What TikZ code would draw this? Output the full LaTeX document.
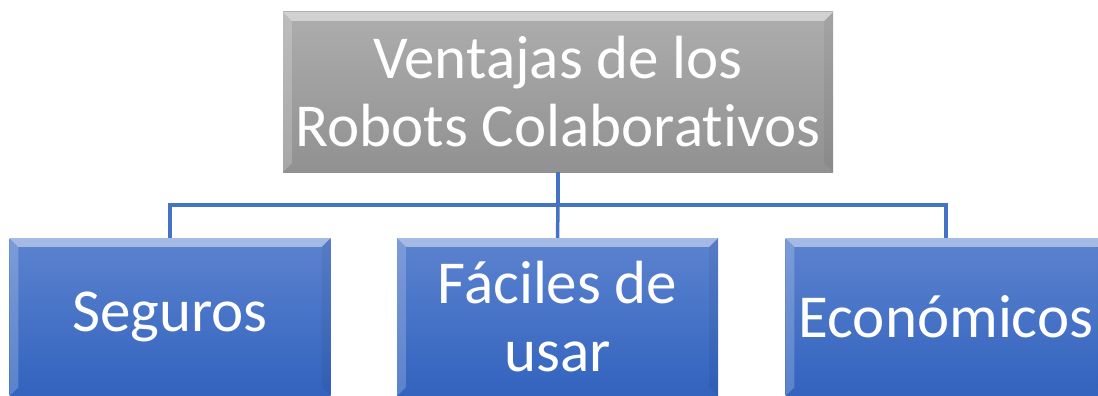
\documentclass[tikz,border=0pt]{standalone}
\usepackage{fontspec}
\setmainfont{Carlito}[Ligatures=NoCommon]
\usetikzlibrary{calc}

\definecolor{linkblue}{HTML}{4472C4}
\definecolor{grayhi}{HTML}{ADADAD}
\definecolor{graylo}{HTML}{919191}
\definecolor{bluehi}{HTML}{5C83CF}
\definecolor{bluelo}{HTML}{3263BE}

\tikzset{
  box/.style={rectangle, inner sep=0pt, text=white, align=center,
    font=\fontsize{61}{68}\selectfont},
  topbox/.style={box, top color=grayhi, bottom color=graylo,
    minimum width=550pt, minimum height=160pt},
  itembox/.style={box, top color=bluehi, bottom color=bluelo,
    minimum width=321pt, minimum height=158pt},
  link/.style={linkblue, line width=3.5pt}
}

% bevel strips on the box edges
\newcommand{\bevel}[2]{%
  \fill[white, opacity=0.45] (#1.north west) -- (#1.north east)
    -- ($(#1.north east)+(-#2,-#2)$) -- ($(#1.north west)+(#2,-#2)$) -- cycle;
  \fill[white, opacity=0.2] (#1.north west) -- ($(#1.north west)+(#2,-#2)$)
    -- ($(#1.south west)+(#2,#2)$) -- (#1.south west) -- cycle;
  \fill[black, opacity=0.05] (#1.north east) -- ($(#1.north east)+(-#2,-#2)$)
    -- ($(#1.south east)+(-#2,#2)$) -- (#1.south east) -- cycle;
}

\begin{document}
\begin{tikzpicture}[x=1pt, y=1pt]
  \useasboundingbox (0,0) rectangle (1098,-396);
  \clip (0,0) rectangle (1098,-396);

  \node[topbox] (ventajas) at (558,-92) {Ventajas de los\\Robots Colaborativos};
  \node[itembox] (seguros) at (170,-317) {Seguros};
  \node[itembox] (faciles) at (557.5,-317) {Fáciles de\\usar};
  \node[itembox] (economicos) at (946,-317) {Económicos};

  \bevel{ventajas}{9pt}
  \foreach \b in {seguros, faciles, economicos}
    \bevel{\b}{9pt};

  \coordinate (bus) at ($(ventajas.south)+(0,-33)$);
  \draw[link] (ventajas.south) -- (bus);
  \draw[link] (bus) -| (seguros.north);
  \draw[link] (bus) -- (faciles.north);
  \draw[link] (bus) -| (economicos.north);
\end{tikzpicture}
\end{document}
